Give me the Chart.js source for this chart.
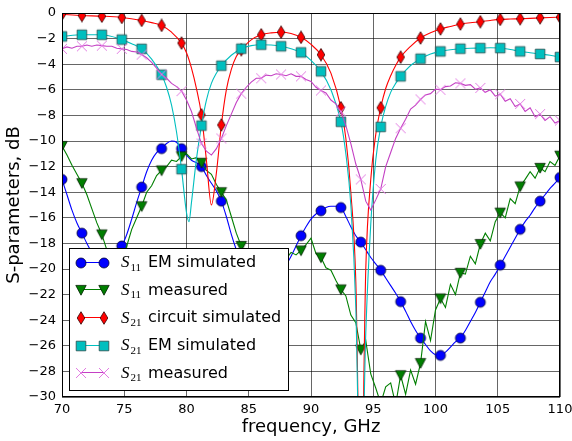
<!DOCTYPE html>
<html>
<head>
<meta charset="utf-8">
<script src="https://cdn.jsdelivr.net/npm/chart.js@4.4.1/dist/chart.umd.min.js"></script>
<style>
  html, body { margin: 0; padding: 0; background: #fff; }
  canvas { display: block; }
</style>
</head>
<body>
<canvas id="sparChart" width="572" height="441"></canvas>
<script>
// sweep used for the measured data (and the S11 EM run), GHz
var measFreq = [70,70.4,70.8,71.2,71.6,72,72.4,72.8,73.2,73.6,74,74.4,74.8,75.2,75.6,76,76.4,76.8,77.2,77.6,78,78.4,78.8,79.2,79.6,
                80,80.4,80.8,81.2,81.6,82,82.4,82.8,83.2,83.6,84,84.4,84.8,85.2,85.6,86,86.4,86.8,87.2,87.6,88,88.4,88.8,89.2,89.6,
                90,90.4,90.8,91.2,91.6,92,92.4,92.8,93.2,93.6,94,94.4,94.8,95.2,95.6,96,96.4,96.8,97.2,97.6,98,98.4,98.8,99.2,99.6,
                100,100.4,100.8,101.2,101.6,102,102.4,102.8,103.2,103.6,104,104.4,104.8,105.2,105.6,106,106.4,106.8,107.2,107.6,108,108.4,108.8,109.2,109.6,
                110];

var s11Em = [-13.0,-14.2,-15.4,-16.4,-17.2,-18.0,-18.7,-19.2,-19.4,-19.3,-19.0,-18.7,-18.2,-17.3,-16.1,-14.8,-13.6,-12.4,-11.5,-10.9,-10.6,-10.2,-10.0,-10.1,-10.6,
             -11.1,-11.5,-11.7,-12.0,-12.7,-13.3,-13.9,-14.7,-15.9,-17.3,-18.5,-19.5,-20.3,-21.0,-21.5,-21.8,-21.8,-21.5,-21.0,-20.4,-19.7,-19.0,-18.2,-17.4,-16.7,
             -16.1,-15.7,-15.45,-15.2,-15.1,-15.1,-15.2,-15.9,-16.7,-17.4,-17.9,-18.5,-19.1,-19.6,-20.1,-20.7,-21.3,-21.9,-22.55,-23.3,-24.1,-24.8,-25.4,-25.9,-26.4,
             -26.7,-26.75,-26.5,-26.1,-25.7,-25.4,-24.8,-24.1,-23.4,-22.6,-21.8,-21.0,-20.4,-19.7,-19.0,-18.3,-17.6,-16.9,-16.3,-15.8,-15.2,-14.7,-14.2,-13.7,-13.3,
             -12.85];

var s11Meas = [-10.4,-11.1,-11.9,-12.6,-13.3,-14.2,-15.3,-16.4,-17.3,-18.5,-19.6,-19.9,-19.3,-18.2,-16.9,-16.0,-15.1,-14.0,-13.5,-12.7,-12.3,-12.0,-11.5,-11.6,-11.2,
               -11.0,-11.4,-11.3,-11.7,-12.3,-12.6,-13.4,-14.0,-14.6,-15.9,-17.2,-18.2,-19.0,-19.6,-20.1,-20.3,-20.2,-20.0,-19.8,-19.5,-19.2,-18.7,-18.9,-18.55,-18.1,
               -17.6,-18.8,-19.1,-19.9,-20.1,-20.9,-21.6,-22.1,-23.6,-24.2,-26.3,-25.6,-28.2,-29.3,-30.5,-29.2,-28.9,-30.6,-28.3,-29.8,-27.9,-29.0,-27.35,-24.1,-25.6,
               -23.2,-22.3,-23.0,-21.2,-22.0,-20.3,-20.4,-19.0,-19.6,-18.05,-17.2,-17.8,-16.3,-15.6,-16.0,-14.5,-14.9,-13.55,-13.0,-12.4,-12.9,-12.1,-12.4,-11.6,-11.9,
               -11.15];

var s21Meas = [-2.8,-2.65,-2.75,-2.6,-2.6,-2.5,-2.6,-2.5,-2.55,-2.6,-2.6,-2.75,-2.8,-2.85,-3.0,-3.05,-3.25,-3.5,-3.85,-4.3,-4.8,-5.1,-5.5,-5.75,-6.1,
               -6.8,-7.7,-9.0,-10.2,-10.8,-11.1,-10.6,-9.8,-8.8,-7.9,-7.0,-6.3,-5.8,-5.4,-5.1,-5.1,-4.85,-4.9,-4.75,-4.8,-4.9,-4.75,-4.95,-4.95,-5.2,
               -5.35,-5.8,-6.05,-6.25,-6.8,-7.1,-7.7,-8.8,-10.2,-11.8,-13.0,-14.7,-15.4,-14.6,-13.75,-12.0,-10.9,-9.8,-9.0,-8.3,-7.5,-7.2,-6.75,-6.4,-6.3,
               -5.95,-6.0,-5.75,-5.7,-5.45,-5.5,-5.65,-5.6,-5.95,-5.85,-6.2,-6.0,-6.5,-6.35,-6.9,-6.7,-7.3,-7.1,-7.7,-7.4,-8.1,-7.9,-8.4,-8.1,-8.6,
               -8.4];

// circuit simulation, sampled more finely round the notches
var circFreq = [70,71.6,73.2,74.8,76.4,77.2,78,78.8,79.6,80,80.4,80.8,81.2,81.6,82,82.4,82.8,83.2,83.6,84,84.4,85.2,86,86.8,87.6,88.4,89.2,90,90.8,91.6,
                92.4,92.8,93.2,93.6,94,94.4,94.8,95.2,95.6,96,96.4,96.8,97.2,98,98.8,99.6,100.4,101.2,102,102.8,103.6,104.4,105.2,106,106.8,107.6,108.4,109.2,110];
var s21Circ = [-0.1,-0.2,-0.25,-0.35,-0.58,-0.75,-0.97,-1.5,-2.35,-3.1,-4.3,-5.9,-7.95,-11.5,-15.0,-12.5,-8.75,-6.0,-4.4,-3.4,-2.87,-2.1,-1.7,-1.55,-1.5,-1.6,-1.9,-2.45,-3.26,-4.7,
               -7.4,-9.8,-14.0,-21.0,-40,-20.0,-13.0,-9.5,-7.4,-5.9,-4.9,-4.1,-3.45,-2.6,-1.95,-1.55,-1.25,-1.05,-0.86,-0.76,-0.68,-0.58,-0.5,-0.47,-0.45,-0.42,-0.38,-0.35,-0.33];

var emFreq = [70,71.6,73.2,74.8,75.6,76.4,77.2,78,78.4,78.8,79.2,79.6,80,80.2,80.4,80.8,81.2,81.6,82,82.4,82.8,83.6,84.4,85.2,86,86.8,87.6,88.4,89.2,90,90.8,91.6,
              92.4,92.8,93.2,93.6,94,94.4,94.8,95.2,95.6,96,96.4,96.8,97.2,98,98.8,99.6,100.4,101.2,102,102.8,103.6,104.4,105.2,106,106.8,107.6,108.4,109.2,110];
var s21Em = [-1.83,-1.7,-1.7,-2.08,-2.4,-2.8,-3.6,-4.82,-5.8,-7.2,-9.3,-12.2,-15.6,-16.3,-14.8,-11.4,-8.8,-6.8,-5.5,-4.7,-4.12,-3.3,-2.79,-2.55,-2.48,-2.5,-2.6,-2.8,-3.08,-3.7,-4.56,-6.0,
             -8.5,-11.0,-15.0,-23.0,-40,-25.0,-16.5,-11.5,-8.9,-7.3,-6.2,-5.5,-4.95,-4.1,-3.57,-3.2,-3.0,-2.87,-2.79,-2.75,-2.74,-2.72,-2.74,-2.85,-3.0,-3.1,-3.2,-3.3,-3.44];

var xTicks = { min: 70, max: 110, step: 5 };
var yTicks = { min: -30, max: 0, step: 2 };

var legendSub = ['11', '11', '21', '21', '21'];
var legendText = ['EM simulated', 'measured', 'circuit simulated', 'EM simulated', 'measured'];

function makeMarker(kind, fill, edge) {
    var c = document.createElement('canvas');
    c.width = 14; c.height = 14;
    var g = c.getContext('2d');
    var m = 7;
    g.fillStyle = fill;
    g.strokeStyle = edge;
    g.lineWidth = 0.8;
    g.beginPath();
    if (kind === 'circle') {
        g.arc(m, m, 5, 0, Math.PI * 2);
    } else if (kind === 'tri') {
        g.moveTo(m - 5.2, m - 4.6); g.lineTo(m + 5.2, m - 4.6); g.lineTo(m, m + 5.2); g.closePath();
    } else if (kind === 'diamond') {
        g.moveTo(m, m - 6.3); g.lineTo(m + 3.8, m); g.lineTo(m, m + 6.3); g.lineTo(m - 3.8, m); g.closePath();
    } else if (kind === 'square') {
        g.rect(m - 4.8, m - 4.8, 9.6, 9.6);
    } else if (kind === 'x') {
        g.lineWidth = 1;
        g.moveTo(m - 5, m - 5); g.lineTo(m + 5, m + 5);
        g.moveTo(m + 5, m - 5); g.lineTo(m - 5, m + 5);
        g.stroke();
        return c;
    }
    g.fill();
    g.stroke();
    return c;
}

var markers = {
    circle: makeMarker('circle', '#0000ff', '#000033'),
    tri: makeMarker('tri', '#007f00', '#002200'),
    diamond: makeMarker('diamond', '#ff0000', '#330000'),
    square: makeMarker('square', '#00bfbf', '#2a4a4a'),
    x: makeMarker('x', null, '#e27ae2')
};

function isMark(x) {
    var k = (x - 70) / 1.6;
    return Math.abs(k - Math.round(k)) < 1e-6;
}

function toPoints(xs, ys) {
    return xs.map(function (x, i) { return { x: x, y: ys[i] }; });
}

function makeSet(label, xs, ys, color, marker, smooth, order) {
    return {
        label: label,
        data: toPoints(xs, ys),
        borderColor: color,
        borderWidth: 1.1,
        fill: false,
        tension: 0,
        cubicInterpolationMode: smooth ? 'monotone' : 'default',
        pointRadius: function (ctx) { return ctx.raw && isMark(ctx.raw.x) ? 5 : 0; },
        pointStyle: function (ctx) { return ctx.raw && isMark(ctx.raw.x) ? marker : 'circle'; },
        pointBorderWidth: 0,
        order: order,
        legendMarker: marker
    };
}

var datasets = [
    makeSet('S11 EM simulated', measFreq, s11Em, '#0000ff', markers.circle, true, 5),
    makeSet('S11 measured', measFreq, s11Meas, '#007f00', markers.tri, false, 4),
    makeSet('S21 circuit simulated', circFreq, s21Circ, '#ff0000', markers.diamond, true, 3),
    makeSet('S21 EM simulated', emFreq, s21Em, '#00bfbf', markers.square, true, 2),
    makeSet('S21 measured', measFreq, s21Meas, '#c440c4', markers.x, false, 1)
];

var frameAndLegend = {
    id: 'frameAndLegend',
    afterDraw: function (chart) {
        var ctx = chart.ctx;
        var a = chart.chartArea;
        ctx.save();
        // axes frame
        ctx.strokeStyle = '#000';
        ctx.lineWidth = 1;
        ctx.strokeRect(Math.round(a.left) + 0.5, Math.round(a.top) + 0.5,
            Math.round(a.right - a.left) - 1, Math.round(a.bottom - a.top) - 1);

        // legend box, lower left
        var bx = Math.round(a.left) + 7, by = Math.round(a.bottom) - 149, bw = 219, bh = 142;
        ctx.fillStyle = '#fff';
        ctx.fillRect(bx, by, bw, bh);
        ctx.strokeRect(bx + 0.5, by + 0.5, bw, bh);

        datasets.forEach(function (ds, i) {
            var cy = by + 13.7 + i * 27.65;
            var x1 = bx + 12, x2 = bx + 35;
            ctx.strokeStyle = ds.borderColor;
            ctx.lineWidth = 1;
            ctx.beginPath();
            ctx.moveTo(x1, Math.round(cy) + 0.5);
            ctx.lineTo(x2, Math.round(cy) + 0.5);
            ctx.stroke();
            var mk = ds.legendMarker;
            ctx.drawImage(mk, Math.round(x1) - 7, Math.round(cy) - 6);
            ctx.drawImage(mk, Math.round(x2) - 7, Math.round(cy) - 6);

            ctx.fillStyle = '#000';
            ctx.textBaseline = 'alphabetic';
            ctx.textAlign = 'left';
            ctx.font = 'italic 17px "Liberation Serif"';
            ctx.fillText('S', bx + 52, cy + 5.6);
            var sw = ctx.measureText('S').width;
            ctx.font = '11px "Liberation Serif"';
            ctx.fillText(legendSub[i], bx + 52 + sw + 1, cy + 9);
            ctx.font = '16px "DejaVu Sans"';
            ctx.fillText(legendText[i], bx + 79, cy + 5.3);
        });
        ctx.restore();
    }
};

function createChart() {
    Chart.defaults.font.family = '"DejaVu Sans", sans-serif';
    Chart.defaults.color = '#000';
    var ctx = document.getElementById('sparChart');
    return new Chart(ctx, {
        type: 'line',
        data: { datasets: datasets },
        options: {
            responsive: false,
            animation: false,
            devicePixelRatio: 1,
            events: [],
            layout: { padding: { top: 13, right: 12, left: 0, bottom: 0 } },
            plugins: {
                legend: { display: false },
                tooltip: { enabled: false }
            },
            scales: {
                x: {
                    type: 'linear',
                    min: xTicks.min,
                    max: xTicks.max,
                    afterFit: function (scale) {
                        scale.height = 44;
                        scale.paddingLeft = 0;
                        scale.paddingRight = 0;
                    },
                    border: { display: false },
                    grid: { color: 'rgba(0,0,0,0.6)', lineWidth: 1, drawTicks: false },
                    ticks: { stepSize: xTicks.step, padding: 5, font: { size: 13 }, maxRotation: 0 },
                    title: { display: true, text: 'frequency, GHz', font: { size: 18 }, padding: { top: 0, bottom: 3 } }
                },
                y: {
                    type: 'linear',
                    min: yTicks.min,
                    max: yTicks.max,
                    afterFit: function (scale) {
                        scale.width = 62;
                        scale.paddingTop = 0;
                        scale.paddingBottom = 0;
                    },
                    border: { display: false },
                    grid: { color: 'rgba(0,0,0,0.6)', lineWidth: 1, drawTicks: false },
                    ticks: {
                        stepSize: yTicks.step,
                        padding: 6,
                        font: { size: 13 },
                        callback: function (v) { return String(v).replace('-', '\u2212'); }
                    },
                    title: { display: true, text: 'S-parameters, dB', font: { size: 18 }, padding: { top: 4, bottom: 0 } }
                }
            }
        },
        plugins: [frameAndLegend]
    });
}

createChart();
</script>
</body>
</html>
